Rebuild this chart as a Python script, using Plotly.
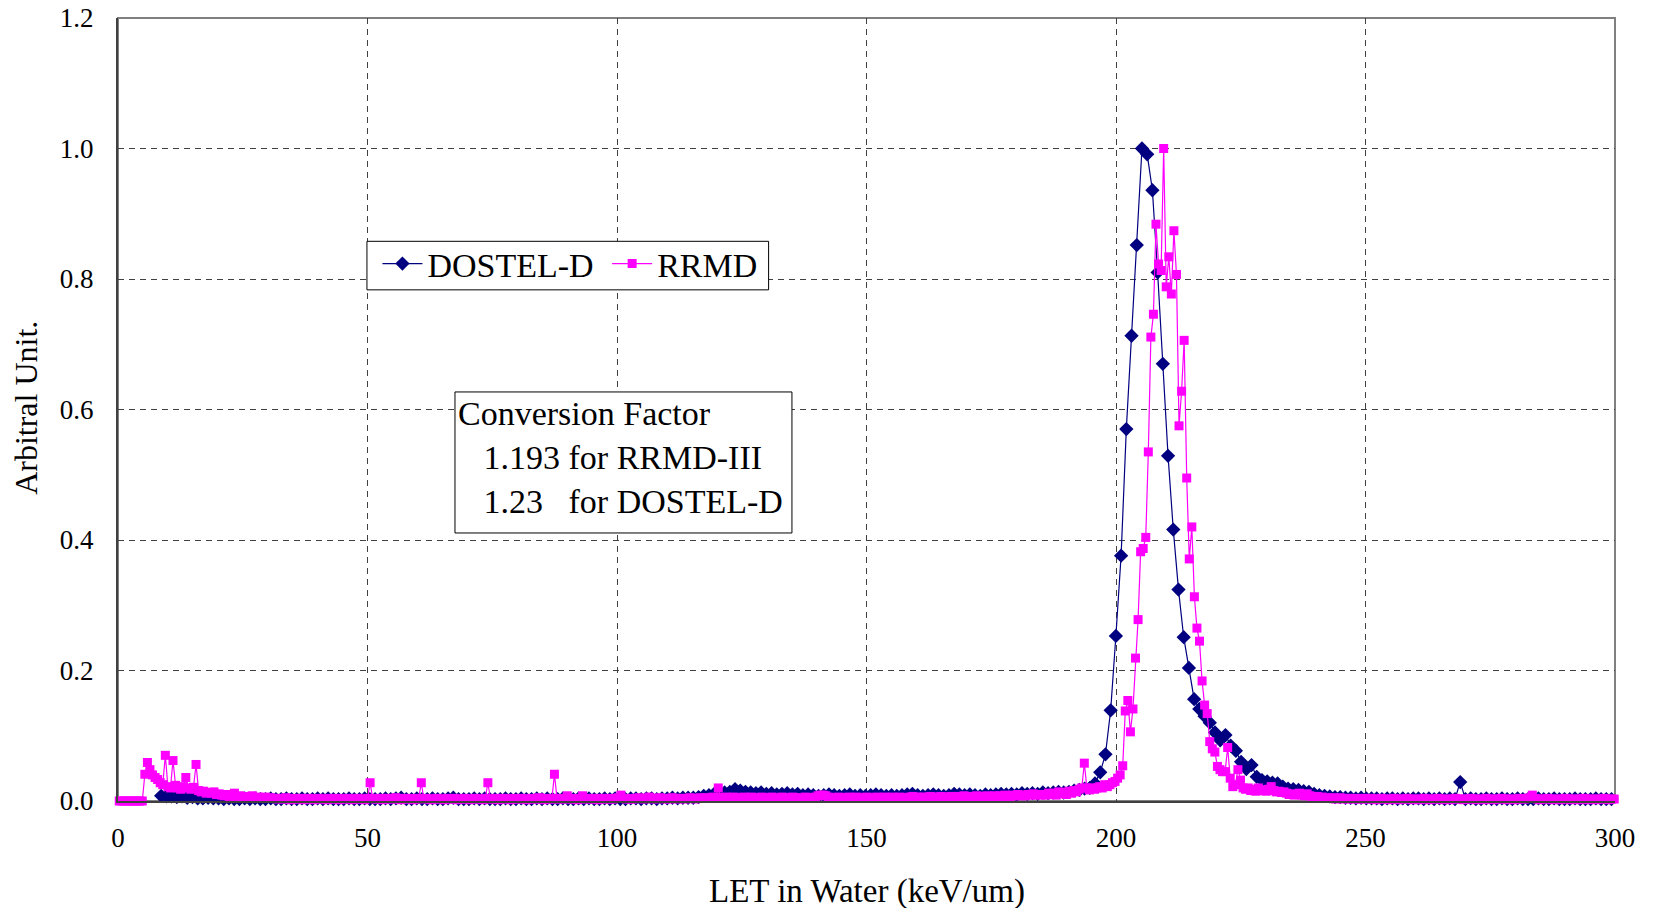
import plotly.graph_objects as go

# ---------------- data ----------------
# LET bins (channel width x conversion factor)
DOSTEL_START = 8.65
DOSTEL_STEP = 1.0455          # 0.85 keV/um channel x 1.23
RRMD_START = 0.25
RRMD_STEP = 0.513             # 0.43 keV/um channel x 1.193

dostel_y = (
    [0.008, 0.007, 0.007, 0.006, 0.007, 0.005, 0.006, 0.004]
    + [0.004, 0.005, 0.004]
    + [0.004, 0.003, 0.004, 0.003, 0.003, 0.004, 0.003, 0.004, 0.003, 0.003,
       0.004, 0.003, 0.003, 0.004, 0.003, 0.003, 0.004, 0.003, 0.003, 0.004,
       0.003, 0.004, 0.003, 0.003, 0.003, 0.004, 0.003, 0.003, 0.004, 0.003,
       0.003, 0.003, 0.004, 0.003, 0.004, 0.005, 0.003, 0.003, 0.004, 0.003,
       0.003, 0.004, 0.003, 0.003, 0.004, 0.005, 0.003, 0.003, 0.003, 0.004,
       0.003, 0.004, 0.003, 0.003, 0.003, 0.004, 0.003, 0.003, 0.004, 0.003,
       0.003, 0.004, 0.003, 0.004, 0.003, 0.003, 0.004, 0.003, 0.003, 0.004,
       0.003, 0.004, 0.003, 0.003, 0.004, 0.003, 0.004, 0.003, 0.003, 0.004,
       0.004, 0.003, 0.004, 0.004, 0.003, 0.004, 0.004, 0.005, 0.004, 0.005,
       0.005]
    + [0.005, 0.006, 0.008, 0.009, 0.011, 0.010, 0.013, 0.014, 0.018, 0.016,
       0.014, 0.013, 0.012, 0.013, 0.011, 0.012, 0.010, 0.011, 0.012, 0.010,
       0.011]
    + [0.009, 0.010, 0.009, 0.008, 0.009, 0.010, 0.009, 0.008, 0.009, 0.010,
       0.008, 0.009, 0.008, 0.009, 0.010, 0.009, 0.008, 0.009, 0.008, 0.009,
       0.010, 0.011, 0.009, 0.008, 0.009, 0.010, 0.009, 0.008, 0.009, 0.011,
       0.010, 0.009, 0.010, 0.009, 0.008, 0.010, 0.009, 0.010, 0.011, 0.010,
       0.011, 0.010, 0.012, 0.011, 0.012, 0.011, 0.013, 0.012, 0.013, 0.014,
       0.013]
    + [0.014, 0.016, 0.017, 0.019, 0.020, 0.027, 0.044, 0.0715, 0.139, 0.253,
       0.376, 0.570, 0.713, 0.852, 1.000, 0.991, 0.936, 0.810, 0.670, 0.529]
    + [0.416, 0.324, 0.251, 0.204, 0.156, 0.141, 0.130, 0.120, 0.105, 0.093,
       0.101, 0.085, 0.077, 0.060, 0.049, 0.055, 0.037, 0.032, 0.030, 0.028,
       0.027, 0.022, 0.019, 0.018, 0.017, 0.015, 0.014, 0.011]
    + [0.009, 0.008, 0.007, 0.006, 0.006, 0.005, 0.005, 0.004, 0.005, 0.004]
    + [0.004, 0.004, 0.003, 0.004, 0.004, 0.003, 0.004, 0.003, 0.004, 0.004,
       0.003, 0.004, 0.003, 0.004, 0.003, 0.004, 0.003]
    + [0.029]
    + [0.003, 0.004, 0.003, 0.003, 0.004, 0.003, 0.003, 0.004, 0.003, 0.003,
       0.004, 0.003, 0.003, 0.003, 0.004, 0.003, 0.003, 0.004, 0.003, 0.003,
       0.003, 0.004, 0.003, 0.003, 0.003, 0.004, 0.003, 0.003, 0.003]
)

rrmd_y = (
    [0.0] * 10
    + [0.041, 0.059, 0.048, 0.040, 0.036, 0.033, 0.028, 0.025, 0.070, 0.022,
       0.020, 0.062, 0.024, 0.020, 0.018, 0.022, 0.036, 0.020, 0.018, 0.021,
       0.056, 0.016, 0.014, 0.015, 0.012, 0.013, 0.012, 0.014, 0.010, 0.011,
       0.009]
    + [0.008, 0.010, 0.007, 0.009, 0.012, 0.007, 0.008, 0.006, 0.007, 0.005,
       0.006, 0.008, 0.005, 0.006, 0.004, 0.005, 0.006, 0.004, 0.005, 0.004]
    + [0.004, 0.003, 0.004, 0.003, 0.005, 0.003, 0.002, 0.004, 0.003, 0.003,
       0.004, 0.002, 0.003, 0.004, 0.003, 0.002, 0.003, 0.004, 0.003, 0.003,
       0.002, 0.004, 0.003, 0.003, 0.004, 0.002, 0.003, 0.003, 0.004, 0.003,
       0.002, 0.003, 0.004, 0.003, 0.003, 0.002, 0.004]
    + [0.028]
    + [0.004, 0.003, 0.003, 0.004, 0.002, 0.003, 0.004, 0.003, 0.003, 0.005,
       0.003, 0.002, 0.004, 0.003, 0.003, 0.004, 0.002, 0.003, 0.004]
    + [0.028]
    + [0.003, 0.004, 0.003, 0.002, 0.003, 0.004, 0.003, 0.003, 0.002, 0.004,
       0.003, 0.003, 0.004, 0.002, 0.003, 0.003, 0.004, 0.003, 0.002, 0.003,
       0.004, 0.003, 0.003, 0.002, 0.004]
    + [0.028]
    + [0.003, 0.003, 0.004, 0.002, 0.003, 0.004, 0.003, 0.003, 0.002, 0.004,
       0.003, 0.003, 0.004, 0.003, 0.002, 0.003, 0.004, 0.003, 0.003, 0.005,
       0.003, 0.002, 0.004, 0.003, 0.003]
    + [0.041]
    + [0.004, 0.003, 0.003, 0.004, 0.008, 0.003, 0.003, 0.004, 0.002, 0.003,
       0.008, 0.004, 0.003, 0.003, 0.004, 0.003, 0.002, 0.004, 0.003, 0.003,
       0.004, 0.003, 0.003, 0.004, 0.005, 0.009, 0.004, 0.003, 0.004, 0.003,
       0.003, 0.004, 0.005, 0.004, 0.003, 0.004, 0.006, 0.004, 0.003, 0.004,
       0.005, 0.004, 0.003, 0.004, 0.003, 0.005, 0.004, 0.003, 0.004, 0.004,
       0.003, 0.004, 0.005, 0.004, 0.003, 0.004, 0.005, 0.004, 0.005, 0.004,
       0.005, 0.006, 0.005]
    + [0.020]
    + [0.005, 0.004, 0.006, 0.005, 0.004, 0.006, 0.005, 0.004, 0.005, 0.006,
       0.004, 0.005, 0.006, 0.005, 0.004, 0.005, 0.006, 0.004, 0.005, 0.005,
       0.006, 0.004, 0.005, 0.004, 0.006, 0.005, 0.004, 0.005, 0.006, 0.005,
       0.004, 0.005, 0.004, 0.006, 0.005, 0.004, 0.005, 0.006, 0.008, 0.009,
       0.009, 0.008, 0.006, 0.005, 0.004, 0.005, 0.006, 0.005, 0.004, 0.005,
       0.006, 0.005, 0.004, 0.006, 0.005, 0.004, 0.005, 0.006, 0.005, 0.004,
       0.005, 0.006, 0.004, 0.005, 0.006, 0.005, 0.004, 0.006, 0.005, 0.005,
       0.006, 0.005, 0.004, 0.005, 0.006, 0.007, 0.005, 0.006, 0.005, 0.006,
       0.005, 0.006, 0.007, 0.005, 0.006, 0.005, 0.007, 0.006, 0.005, 0.006,
       0.007, 0.006, 0.005, 0.007, 0.006, 0.008, 0.006, 0.007, 0.006, 0.007,
       0.008, 0.006, 0.007, 0.006, 0.008, 0.007, 0.006, 0.008, 0.007, 0.008,
       0.007, 0.009, 0.008, 0.007, 0.009, 0.008, 0.010, 0.008, 0.009, 0.008,
       0.010, 0.009, 0.011, 0.009, 0.010]
    + [0.009, 0.010, 0.009, 0.012, 0.010, 0.012, 0.009, 0.014, 0.011, 0.013,
       0.010, 0.015, 0.012, 0.016, 0.014, 0.018, 0.020, 0.058, 0.020, 0.017,
       0.020, 0.018, 0.020, 0.022, 0.020, 0.025, 0.022, 0.025, 0.028, 0.030,
       0.035, 0.040, 0.054, 0.138, 0.154, 0.106, 0.141, 0.219, 0.278, 0.382,
       0.387, 0.404, 0.535, 0.711, 0.746, 0.884, 0.823, 0.813, 1.000, 0.788,
       0.834, 0.777, 0.874, 0.807, 0.575, 0.628, 0.706, 0.495, 0.371, 0.420,
       0.313, 0.265, 0.245, 0.184, 0.147, 0.134, 0.091, 0.080, 0.075, 0.053,
       0.048, 0.045, 0.045, 0.082, 0.035, 0.022, 0.025, 0.048, 0.032, 0.020,
       0.018]
    + [0.020, 0.016, 0.018, 0.015, 0.020, 0.016, 0.017, 0.015, 0.018, 0.022,
       0.016, 0.014, 0.015, 0.013, 0.014, 0.012, 0.010, 0.011, 0.009, 0.010,
       0.012, 0.009, 0.008, 0.011, 0.008, 0.007, 0.006, 0.007]
    + [0.005, 0.006, 0.004, 0.005, 0.004, 0.005, 0.003, 0.004, 0.005, 0.003,
       0.004, 0.003, 0.004, 0.003, 0.004, 0.003, 0.003, 0.004, 0.003, 0.003,
       0.004, 0.003, 0.002, 0.003, 0.004, 0.003, 0.003, 0.002, 0.003, 0.004,
       0.003, 0.002, 0.003, 0.003, 0.004, 0.003, 0.002, 0.003, 0.003, 0.002,
       0.003, 0.004, 0.003, 0.002, 0.003, 0.003, 0.004, 0.003, 0.002, 0.003,
       0.003, 0.002, 0.003, 0.004, 0.003, 0.003, 0.002, 0.003, 0.003, 0.004,
       0.003, 0.002, 0.003, 0.003, 0.002, 0.004, 0.003, 0.003, 0.002, 0.003,
       0.003, 0.004, 0.003, 0.002, 0.003, 0.003, 0.002, 0.003, 0.004, 0.003,
       0.003, 0.004, 0.005]
    + [0.009]
    + [0.004, 0.003, 0.002, 0.003, 0.003, 0.004, 0.003, 0.002, 0.003, 0.003,
       0.002, 0.003, 0.004, 0.003, 0.002, 0.003, 0.003, 0.002, 0.003, 0.004,
       0.003, 0.002, 0.003, 0.003, 0.002, 0.003, 0.003, 0.004, 0.003, 0.002,
       0.003, 0.003]
)

dostel_x = [DOSTEL_START + i * DOSTEL_STEP for i in range(len(dostel_y))]
rrmd_x = [RRMD_START + i * RRMD_STEP for i in range(len(rrmd_y))]

x_ticks = [0, 50, 100, 150, 200, 250, 300]
y_ticks = [0.0, 0.2, 0.4, 0.6, 0.8, 1.0, 1.2]

FONT = "Liberation Serif, Times New Roman, serif"
NB = "\u00a0"

# ---------------- figure ----------------
fig = go.Figure()
fig.add_trace(go.Scatter(
    x=dostel_x, y=dostel_y, name="DOSTEL-D" + NB, mode="lines+markers",
    line=dict(color="#000080", width=1.2),
    marker=dict(symbol="diamond", size=11, color="#000080"),
    cliponaxis=False,
))
fig.add_trace(go.Scatter(
    x=rrmd_x, y=rrmd_y, name="RRMD", mode="lines+markers",
    line=dict(color="#FF00FF", width=1.2),
    marker=dict(symbol="square", size=9, color="#FF00FF"),
    cliponaxis=False,
))

axis_common = dict(
    showgrid=True, gridcolor="#404040", gridwidth=1, griddash="6px,5px",
    showline=True, linecolor="#404040", linewidth=2,
    ticks="", zeroline=False, automargin=False,
    tickfont=dict(family=FONT, size=27, color="black"),
)
fig.update_xaxes(range=[0, 300], tickvals=x_ticks, ticklabelstandoff=12, **axis_common)
fig.update_yaxes(range=[0, 1.2], tickvals=y_ticks, tickformat=".1f",
                 ticklabelstandoff=17, **axis_common)

# plot frame
fig.add_shape(type="rect", xref="paper", yref="paper", x0=0, y0=0, x1=1, y1=1,
              line=dict(color="#808080", width=2), layer="between")
# legend box
fig.add_shape(type="rect", xref="paper", yref="paper",
              x0=0.1663, x1=0.4346, y0=0.6528, y1=0.7148,
              line=dict(color="black", width=1), fillcolor="white", layer="above")
# conversion factor box
fig.add_shape(type="rect", xref="paper", yref="paper",
              x0=0.2251, x1=0.4502, y0=0.3423, y1=0.5224,
              line=dict(color="black", width=1), fillcolor="white", layer="above")

fig.add_annotation(
    x=0.5, y=-0.116, xref="paper", yref="paper", showarrow=False,
    text="LET in Water (keV/um)", font=dict(family=FONT, size=33, color="black"),
    xanchor="center", yanchor="middle",
)
fig.add_annotation(
    x=-0.0615, y=0.502, xref="paper", yref="paper", showarrow=False,
    text="Arbitral Unit.", textangle=-90,
    font=dict(family=FONT, size=32, color="black"),
    xanchor="center", yanchor="middle",
)
fig.add_annotation(
    x=0.2251, y=0.5224, xref="paper", yref="paper", showarrow=False,
    text=("Conversion Factor<br>"
          + NB * 3 + "1.193 for RRMD-III<br>"
          + NB * 3 + "1.23" + NB * 3 + "for DOSTEL-D"),
    align="left", xanchor="left", yanchor="top",
    font=dict(family=FONT, size=34, color="black"),
    borderwidth=0, borderpad=3,
)

fig.update_layout(
    width=1653, height=908,
    margin=dict(l=118, r=38, t=18, b=107),
    paper_bgcolor="white", plot_bgcolor="white",
    font=dict(family=FONT, color="black"),
    showlegend=True,
    legend=dict(
        orientation="h", x=0.1733, y=0.7229, xanchor="left", yanchor="top",
        borderwidth=0, bgcolor="rgba(0,0,0,0)",
        font=dict(family=FONT, size=34, color="black"),
        itemwidth=40,
    ),
)

fig.write_html("out.html")
